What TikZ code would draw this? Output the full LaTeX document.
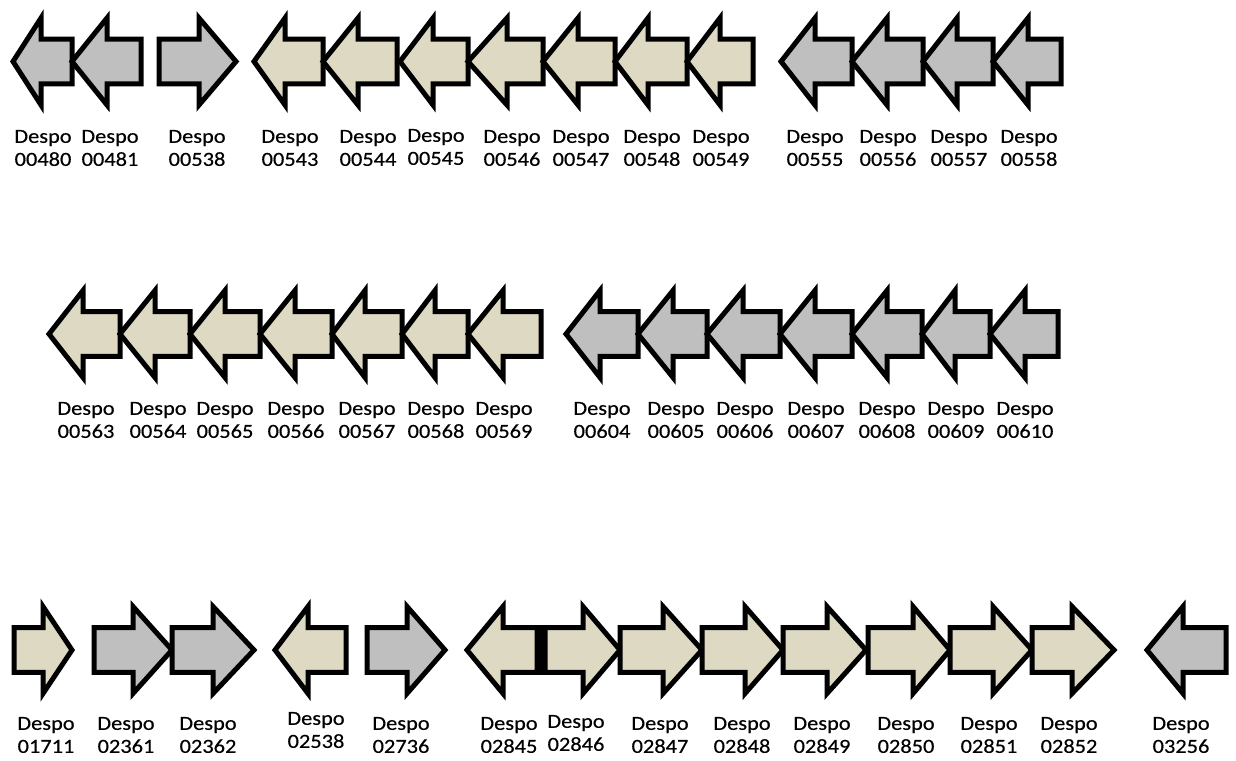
\documentclass[tikz,border=0pt]{standalone}
\usepackage{fontspec}
\setmainfont{Carlito}[FakeStretch=1.12,FakeBold=0.4]
\definecolor{ggray}{HTML}{BFBFBF}
\definecolor{gtan}{HTML}{DDD9C3}
\tikzset{
  gene/.style={draw=black, line width=5pt, line join=miter, miter limit=10},
  lbl/.style={align=center, font=\fontsize{20}{23}\selectfont, inner sep=0pt}
}
% left-pointing gene: tip x, head-base x, right x, centre y, fill
\newcommand\genL[5]{\path[gene, fill=#5] (#1,#4) -- (#2,#4-43.5) -- (#2,#4-22.3) -- (#3,#4-22.3) -- (#3,#4+22.3) -- (#2,#4+22.3) -- (#2,#4+43.5) -- cycle;}
% right-pointing gene: left x, head-base x, tip x, centre y, fill
\newcommand\genR[5]{\path[gene, fill=#5] (#1,#4-22.3) -- (#2,#4-22.3) -- (#2,#4-43.5) -- (#3,#4) -- (#2,#4+43.5) -- (#2,#4+22.3) -- (#1,#4+22.3) -- cycle;}
% label: name, x, y, number
\newcommand\glabel[4]{\node[lbl] (#1) at (#2,#3) {Despo\\#4};}
\begin{document}
\begin{tikzpicture}[x=1pt,y=-1pt]
\useasboundingbox (0,0) rectangle (1236,760);
% ---------- row 1 ----------
\genL{13}{41}{72}{61.5}{ggray}
\genL{72}{107}{141}{61.5}{ggray}
\genR{159}{199}{236}{61.5}{ggray}
\genL{254}{285}{323}{61.5}{gtan}
\genL{323}{358}{397}{61.5}{gtan}
\genL{400}{433}{468}{61.5}{gtan}
\genL{468}{507}{543}{61.5}{gtan}
\genL{543}{578}{615}{61.5}{gtan}
\genL{615}{648}{687}{61.5}{gtan}
\genL{687}{720}{753}{61.5}{gtan}
\genL{781}{815}{852}{61.5}{ggray}
\genL{852}{887}{923}{61.5}{ggray}
\genL{923}{957}{993}{61.5}{ggray}
\genL{993}{1028}{1061}{61.5}{ggray}
\glabel{l00480}{43}{148}{00480}
\glabel{l00481}{110}{148}{00481}
\glabel{l00538}{197}{148}{00538}
\glabel{l00543}{290}{148}{00543}
\glabel{l00544}{368}{148}{00544}
\glabel{l00545}{436}{147}{00545}
\glabel{l00546}{512}{148}{00546}
\glabel{l00547}{581}{148}{00547}
\glabel{l00548}{652}{148}{00548}
\glabel{l00549}{721}{148}{00549}
\glabel{l00555}{815}{148}{00555}
\glabel{l00556}{888}{148}{00556}
\glabel{l00557}{959}{148}{00557}
\glabel{l00558}{1029}{148}{00558}
% ---------- row 2 ----------
\genL{49}{83}{120}{334}{gtan}
\genL{120}{155}{190}{334}{gtan}
\genL{190}{225}{260}{334}{gtan}
\genL{260}{295}{332}{334}{gtan}
\genL{332}{365}{402}{334}{gtan}
\genL{402}{435}{468}{334}{gtan}
\genL{468}{503}{541}{334}{gtan}
\genL{566}{600}{638}{334}{ggray}
\genL{638}{673}{707}{334}{ggray}
\genL{707}{743}{780}{334}{ggray}
\genL{780}{815}{852}{334}{ggray}
\genL{852}{887}{922}{334}{ggray}
\genL{922}{955}{990}{334}{ggray}
\genL{990}{1025}{1058}{334}{ggray}
\glabel{l00563}{86}{420}{00563}
\glabel{l00564}{158}{420}{00564}
\glabel{l00565}{225}{420}{00565}
\glabel{l00566}{296}{420}{00566}
\glabel{l00567}{367}{420}{00567}
\glabel{l00568}{436}{420}{00568}
\glabel{l00569}{504}{420}{00569}
\glabel{l00604}{602}{420}{00604}
\glabel{l00605}{676}{420}{00605}
\glabel{l00606}{745}{420}{00606}
\glabel{l00607}{816}{420}{00607}
\glabel{l00608}{887}{420}{00608}
\glabel{l00609}{956}{420}{00609}
\glabel{l00610}{1025}{420}{00610}
% ---------- row 3 ----------
\genR{14}{43}{72}{650}{gtan}
\genR{94}{133}{172}{650}{ggray}
\genR{172}{213}{254}{650}{ggray}
\genL{275}{308}{346}{650}{gtan}
\genR{367}{407}{445}{650}{ggray}
\genL{467}{503}{537}{650}{gtan}
\genR{545}{583}{620}{650}{gtan}
\genR{620}{663}{702}{650}{gtan}
\genR{702}{745}{783}{650}{gtan}
\genR{783}{827}{866}{650}{gtan}
\genR{868}{913}{950}{650}{gtan}
\genR{950}{993}{1032}{650}{gtan}
\genR{1032}{1072}{1114}{650}{gtan}
\genL{1147}{1183}{1226}{650}{ggray}
\fill[black] (535,625) rectangle (547,675);
\glabel{l01711}{46}{735}{01711}
\glabel{l02361}{126}{735}{02361}
\glabel{l02362}{208}{735}{02362}
\glabel{l02538}{316}{730}{02538}
\glabel{l02736}{401}{735}{02736}
\glabel{l02845}{509}{735}{02845}
\glabel{l02846}{576}{733}{02846}
\glabel{l02847}{660}{735}{02847}
\glabel{l02848}{742}{735}{02848}
\glabel{l02849}{822}{735}{02849}
\glabel{l02850}{906}{735}{02850}
\glabel{l02851}{989}{735}{02851}
\glabel{l02852}{1069}{735}{02852}
\glabel{l03256}{1181}{735}{03256}
\end{tikzpicture}
\end{document}
